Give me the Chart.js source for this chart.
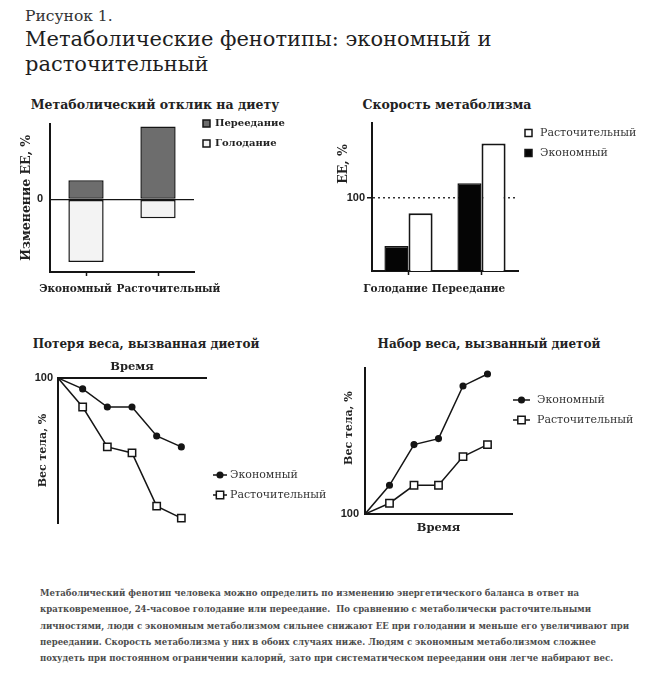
<!DOCTYPE html>
<html lang="ru">
<head>
<meta charset="utf-8">
<script src="https://cdn.jsdelivr.net/npm/chart.js@4.4.1/dist/chart.umd.min.js"></script>
<style>
html,body{margin:0;padding:0;background:#fff;}
body{width:664px;height:680px;position:relative;overflow:hidden;font-family:"DejaVu Serif",serif;color:#222;}
.abs{position:absolute;white-space:nowrap;}
#fig{left:25px;top:7px;font-size:15.5px;line-height:18px;color:#333;}
#head{left:25px;top:27px;font-size:21px;line-height:25px;color:#1e1e1e;}
.ct{font-weight:bold;font-size:12.5px;line-height:15px;text-align:center;width:300px;color:#222;}
canvas{position:absolute;}
#caption{left:40px;top:585px;font-family:"DejaVu Serif Condensed","DejaVu Serif",serif;font-weight:bold;font-size:9.5px;line-height:16.3px;color:#4d4d4d;}
</style>
</head>
<body>
<div id="fig" class="abs">Рисунок 1.</div>
<div id="head" class="abs">Метаболические фенотипы: экономный и<br>расточительный</div>

<div class="abs ct" style="left:5px;top:97px;">Метаболический отклик на диету</div>
<div class="abs ct" style="left:297px;top:97px;">Скорость метаболизма</div>
<div class="abs ct" style="left:-4px;top:337px;font-size:12px;">Потеря веса, вызванная диетой</div>
<div class="abs ct" style="left:339px;top:337px;font-size:12px;">Набор веса, вызванный диетой</div>

<canvas id="c1" width="330" height="200" style="left:0;top:110px;"></canvas>
<canvas id="c2" width="334" height="200" style="left:330px;top:110px;"></canvas>
<canvas id="c3" width="330" height="190" style="left:0;top:350px;"></canvas>
<canvas id="c4" width="334" height="195" style="left:330px;top:355px;"></canvas>

<div id="caption" class="abs">Метаболический фенотип человека можно определить по изменению энергетического баланса в ответ на<br>кратковременное, 24-часовое голодание или переедание.&nbsp; По сравнению с метаболически расточительными<br>личностями, люди с экономным метаболизмом сильнее снижают EE при голодании и меньше его увеличивают при<br>переедании. Скорость метаболизма у них в обоих случаях ниже. Людям с экономным метаболизмом сложнее<br>похудеть при постоянном ограничении калорий, зато при систематическом переедании они легче набирают вес.</div>

<script>
// Метаболический отклик на диету (изменение EE, условные %)
const responseGroups = ["Экономный", "Расточительный"];
const overfeedChange = [19, 73];
const fastingChange = [-63, -19];

// Скорость метаболизма (EE, %)
const rateConditions = ["Голодание", "Переедание"];
const rateThrifty = [80.3, 106.2];
const rateSpendthrift = [93.8, 122.6];

// Вес тела, % по времени
const timeSteps = [0, 1, 2, 3, 4, 5];
const lossThrifty = [100, 99.1, 97.6, 97.6, 95.2, 94.3];
const lossSpendthrift = [100, 97.6, 94.3, 93.8, 89.4, 88.4];
const gainThrifty = [100, 102.4, 105.8, 106.3, 110.7, 111.7];
const gainSpendthrift = [100, 100.9, 102.4, 102.4, 104.8, 105.8];

const INK = "#151515";
const SERIF = "'DejaVu Serif', serif";
const SANS = "'Liberation Sans', Arial, sans-serif";

// legend drawn next to the plot, items taken from the datasets
const sideLegend = {
  id: "sideLegend",
  afterDraw(chart, args, o){
    if (!o || !o.display) return;
    const ctx = chart.ctx;
    const order = o.order || chart.data.datasets.map((d,i)=>i);
    ctx.save();
    order.forEach((di,k)=>{
      const ds = chart.data.datasets[di];
      const y = o.y + k*o.gap;
      ctx.lineWidth = 1.5;
      ctx.strokeStyle = INK;
      if (o.kind === "box"){
        ctx.fillStyle = ds.backgroundColor;
        ctx.fillRect(o.x, y - o.size/2, o.size, o.size);
        ctx.strokeRect(o.x, y - o.size/2, o.size, o.size);
      } else {
        ctx.beginPath(); ctx.moveTo(o.x, y); ctx.lineTo(o.x + o.size, y); ctx.stroke();
        const cx = o.x + o.size/2;
        const r = [].concat(ds.pointRadius).slice(-1)[0];
        ctx.fillStyle = ds.pointBackgroundColor;
        ctx.strokeStyle = ds.pointBorderColor;
        ctx.lineWidth = ds.pointBorderWidth;
        ctx.beginPath();
        if (ds.pointStyle === "rect"){
          const s = r*Math.SQRT1_2;
          ctx.rect(cx - s, y - s, 2*s, 2*s);
        } else {
          ctx.arc(cx, y, r, 0, Math.PI*2);
        }
        ctx.fill(); ctx.stroke();
      }
      ctx.fillStyle = o.color || "#222";
      ctx.font = o.font;
      ctx.textBaseline = "middle";
      ctx.textAlign = "left";
      ctx.fillText(ds.label, o.textX, y);
    });
    ctx.restore();
  }
};
Chart.register(sideLegend);
Chart.defaults.font.family = SERIF;
Chart.defaults.color = "#222";

function onlyTick(v){ return s => { s.ticks = [{value:v}]; }; }

// 1. Метаболический отклик на диету
new Chart(document.getElementById("c1"), {
  type: "bar",
  data: {
    labels: responseGroups,
    datasets: [
      {label:"Переедание", data:overfeedChange, backgroundColor:"#6d6d6d", borderColor:INK, borderWidth:1.5, borderSkipped:false},
      {label:"Голодание", data:fastingChange, backgroundColor:"#f3f3f3", borderColor:INK, borderWidth:1.5, borderSkipped:false}
    ]
  },
  options: {
    responsive:false, animation:false,
    layout:{padding:{left:0, top:13, right:136, bottom:8}},
    barPercentage:0.49, categoryPercentage:1,
    plugins:{
      legend:{display:false}, tooltip:{enabled:false},
      sideLegend:{display:true, kind:"box", x:203, y:13.5, gap:20, size:7, textX:215, font:"bold 10px "+SERIF}
    },
    scales:{
      x:{
        stacked:true, offset:true,
        afterFit(s){ s.height = 30; },
        grid:{offset:false, drawOnChartArea:false, drawTicks:true, tickLength:4, tickColor:INK, tickWidth:1.5},
        border:{color:INK, width:2},
        ticks:{
          color:"#222", font:{size:10.5, weight:"bold"}, padding:7, maxRotation:0, minRotation:0, autoSkip:false,
          // the labels sit pushed apart from their ticks in the original
          callback(v, i){ const t = this.getLabelForValue(v); return i === 0 ? t + "\u2003\u2003" : "\u2003\u2003" + t; }
        }
      },
      y:{
        stacked:true, min:-73, max:76,
        afterFit(s){ s.width = 50; },
        afterBuildTicks: onlyTick(0),
        grid:{color:INK, lineWidth:1.3, drawTicks:false},
        border:{color:INK, width:2},
        ticks:{color:"#222", font:{family:SANS, size:11, weight:"bold"}, padding:7},
        title:{display:true, text:"Изменение EE, %", color:"#222", font:{size:12.5, weight:"bold"}, padding:{top:19, bottom:0}}
      }
    }
  }
});

// 2. Скорость метаболизма
new Chart(document.getElementById("c2"), {
  type: "bar",
  data: {
    labels: rateConditions,
    datasets: [
      {label:"Экономный", data:rateThrifty, backgroundColor:"#050505", borderColor:INK, borderWidth:1.5, borderSkipped:false},
      {label:"Расточительный", data:rateSpendthrift, backgroundColor:"#ffffff", borderColor:INK, borderWidth:2, borderSkipped:false}
    ]
  },
  options: {
    responsive:false, animation:false,
    layout:{padding:{left:0, top:13, right:146, bottom:9}},
    barPercentage:1, categoryPercentage:0.66,
    plugins:{
      legend:{display:false}, tooltip:{enabled:false},
      sideLegend:{display:true, kind:"box", order:[1,0], x:195, y:23, gap:20, size:7, textX:210, font:"11px "+SERIF, color:"#333"}
    },
    scales:{
      x:{
        offset:true,
        afterFit(s){ s.height = 30; },
        grid:{offset:false, drawOnChartArea:false, drawTicks:true, tickLength:4, tickColor:INK, tickWidth:1.5},
        border:{color:INK, width:2},
        ticks:{color:"#222", font:{size:10.5, weight:"bold"}, padding:8, labelOffset:-13, maxRotation:0, minRotation:0, autoSkip:false}
      },
      y:{
        min:70, max:131,
        afterFit(s){ s.width = 42; },
        afterBuildTicks: onlyTick(100),
        grid:{color:"#333", lineWidth:1.5, drawTicks:true, tickLength:5, tickColor:INK, tickWidth:1.5},
        border:{color:INK, width:2, dash:[2,3]},
        ticks:{color:"#222", font:{family:SANS, size:11, weight:"bold"}, padding:2},
        title:{display:true, align:"end", text:"EE, %\u2003  ", color:"#222", font:{size:12.5, weight:"bold"}, padding:{top:6, bottom:0}}
      }
    }
  }
});

function weightSeries(label, ys, filled){
  return {
    label,
    data: timeSteps.map((t,i)=>({x:t, y:ys[i]})),
    borderColor: INK, borderWidth: 1.5,
    pointStyle: filled ? "circle" : "rect",
    pointRadius: timeSteps.map((t,i)=> i===0 ? 0 : (filled ? 2.8 : 5.2)),
    pointBackgroundColor: filled ? INK : "#ffffff",
    pointBorderColor: INK, pointBorderWidth: 1.5,
    fill:false, tension:0
  };
}

// 3. Потеря веса, вызванная диетой
new Chart(document.getElementById("c3"), {
  type: "line",
  data: { datasets: [ weightSeries("Экономный", lossThrifty, true), weightSeries("Расточительный", lossSpendthrift, false) ] },
  options: {
    responsive:false, animation:false,
    layout:{padding:{left:0, top:0, right:124, bottom:17}},
    plugins:{
      legend:{display:false}, tooltip:{enabled:false},
      sideLegend:{display:true, kind:"line", x:213, y:125, gap:20, size:14, textX:230, font:"11px "+SERIF, color:"#333"}
    },
    scales:{
      x:{
        type:"linear", position:"top", min:0, max:6,
        afterFit(s){ s.height = 28; },
        grid:{display:false, drawTicks:false},
        border:{color:INK, width:2},
        ticks:{display:false},
        title:{display:true, text:"Время", color:"#222", font:{size:11.5, weight:"bold"}, padding:{top:9.8, bottom:0}}
      },
      y:{
        min:88, max:100,
        afterFit(s){ s.width = 58; },
        afterBuildTicks: onlyTick(100),
        grid:{display:false, drawTicks:false},
        border:{color:INK, width:2},
        ticks:{color:"#222", font:{family:SANS, size:11, weight:"bold"}, padding:5},
        title:{display:true, text:"Вес тела, %", color:"#222", font:{size:11, weight:"bold"}, padding:{top:36.5, bottom:0}}
      }
    }
  }
});

// 4. Набор веса, вызванный диетой
new Chart(document.getElementById("c4"), {
  type: "line",
  data: { datasets: [ weightSeries("Экономный", gainThrifty, true), weightSeries("Расточительный", gainSpendthrift, false) ] },
  options: {
    responsive:false, animation:false,
    layout:{padding:{left:0, top:13, right:152, bottom:6}},
    plugins:{
      legend:{display:false}, tooltip:{enabled:false},
      sideLegend:{display:true, kind:"line", x:183, y:45, gap:20, size:17, textX:207, font:"11px "+SERIF, color:"#333"}
    },
    scales:{
      x:{
        type:"linear", min:0, max:6,
        afterFit(s){ s.height = 30; },
        grid:{display:false, drawTicks:false},
        border:{color:INK, width:2},
        ticks:{display:false},
        title:{display:true, text:"Время", color:"#222", font:{size:11.5, weight:"bold"}, padding:{top:0, bottom:8.8}}
      },
      y:{
        min:100, max:112.2,
        afterFit(s){ s.width = 35; },
        afterBuildTicks: onlyTick(100),
        grid:{display:false, drawTicks:false},
        border:{color:INK, width:2},
        ticks:{color:"#222", font:{family:SANS, size:11, weight:"bold"}, padding:6},
        title:{display:true, text:"\u2003\u2003 Вес тела, %", color:"#222", font:{size:11, weight:"bold"}, padding:{top:13, bottom:0}}
      }
    }
  }
});
</script>
</body>
</html>
